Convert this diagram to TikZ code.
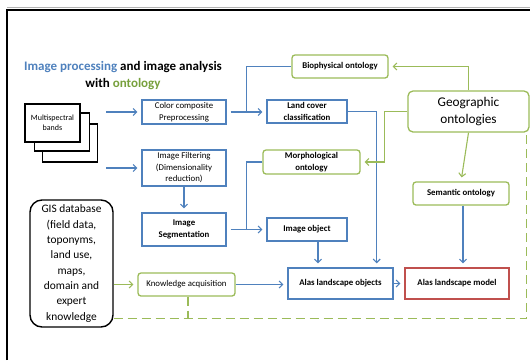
\documentclass[tikz,border=0pt]{standalone}
\usepackage{fontspec}
\setmainfont{Carlito}
\usetikzlibrary{positioning,calc,arrows.meta}
\definecolor{ublue}{RGB}{79,129,189}
\definecolor{ugreen}{RGB}{155,187,89}
\definecolor{ured}{RGB}{192,80,77}
\definecolor{tgreen}{RGB}{119,160,60}
\begin{document}
\begin{tikzpicture}[x=1pt, y=-1pt,
    bbox/.style={draw=ublue, line width=1.3pt, align=center, inner sep=1pt,
        font=\fontsize{8.8}{11.5}\selectfont},
    gbox/.style={draw=ugreen, line width=1.3pt, rounded corners=3pt, align=center,
        inner sep=1pt, font=\fontsize{8.8}{11.5}\selectfont},
    bold/.style={font=\bfseries\fontsize{8.8}{11.5}\selectfont},
    sheet/.style={draw, line width=1.3pt, fill=white, minimum width=55pt,
        minimum height=38pt, align=center, font=\fontsize{8}{10}\selectfont},
    barr/.style={draw=ublue, line width=1.1pt, -{Straight Barb[length=3.5pt,width=7pt]},
        shorten >=4pt},
    garr/.style={draw=ugreen, line width=1.1pt, -{Straight Barb[length=3.5pt,width=7pt]},
        shorten >=4pt},
    gdash/.style={draw=ugreen, line width=1.1pt, dash pattern=on 9pt off 5pt}]
    \useasboundingbox (0,0) rectangle (530,360);

    % Frame
    \draw[gray!60, line width=0.8pt] (7,7.5) -- (530,7.5);
    \draw[line width=1.4pt] (7,360) -- (7,10) -- (530,10);

    % Title
    \node[align=center, font=\bfseries\fontsize{13}{17}\selectfont] (title) at (123,75.5)
        {\textcolor{ublue}{Image processing} and image analysis\\
         with \textcolor{tgreen}{ontology}};

    % Multispectral bands (stacked sheets)
    \node[sheet] (mb3) at (70,143) {};
    \node[sheet] (mb2) at (62,132) {};
    \node[sheet] (mb1) at (52.5,123) {Multispectral\\bands};

    % Image processing chain
    \node[bbox, minimum width=84pt, minimum height=24pt] (colr) at (184,112)
        {Color composite\\Preprocessing};
    \node[bbox, minimum width=84pt, minimum height=36pt] (filt) at (184,168)
        {Image Filtering\\(Dimensionality\\reduction)};
    \node[bbox, bold, minimum width=84pt, minimum height=33pt] (seg) at (184,229.5)
        {Image\\Segmentation};
    \node[bbox, bold, minimum width=80pt, minimum height=23pt] (land) at (307,111.5)
        {Land cover\\classification};
    \node[bbox, bold, minimum width=80pt, minimum height=23pt] (imgobj) at (307,229.5)
        {Image object};
    \node[bbox, bold, minimum width=105pt, minimum height=31pt] (objs) at (340.5,283.5)
        {Alas landscape objects};
    \node[bbox, bold, draw=ured, minimum width=104pt, minimum height=31pt] (model) at (457,283.5)
        {Alas landscape model};

    % Ontologies
    \node[gbox, bold, minimum width=96pt, minimum height=23pt] (bio) at (340,66.5)
        {Biophysical ontology};
    \node[gbox, bold, minimum width=97pt, minimum height=24pt] (morph) at (311.5,162)
        {Morphological\\ontology};
    \node[gbox, bold, minimum width=96pt, minimum height=23pt] (sem) at (461,193.5)
        {Semantic ontology};
    \node[gbox, rounded corners=5pt, minimum width=121pt, minimum height=41pt,
        font=\fontsize{13.3}{17}\selectfont] (geo) at (468.5,111.5) {Geographic\\ontologies};

    % Knowledge sources
    \node[draw, line width=1.4pt, rounded corners=12pt, minimum width=83pt, minimum height=127pt,
        align=center, inner sep=1pt, font=\fontsize{11.4}{15.3}\selectfont] (gis) at (71.5,263.5)
        {GIS database\\(field data,\\toponyms,\\land use,\\maps,\\domain and\\expert\\knowledge};
    \node[gbox, minimum width=97pt, minimum height=23pt] (know) at (186.5,284.5)
        {Knowledge acquisition};

    % Blue flow
    \draw[barr] ([xshift=8pt]mb3.east |- colr.west) -- (colr.west);
    \draw[barr] ([xshift=8pt]mb3.east |- filt.west) -- (filt.west);
    \draw[barr, shorten <=4pt] (colr.east) -- (colr.east -| land.west);
    \draw[ublue, line width=1.1pt] ($(colr.east)!0.5!(colr.east -| land.west)$) |- (bio.west);
    \draw[barr] (filt.south) -- (seg.north);
    \draw[barr, shorten <=4pt] (seg.east) -- (seg.east -| imgobj.west);
    \draw[ublue, line width=1.1pt] (morph.west) -| ($(seg.east)!0.5!(seg.east -| imgobj.west)$);
    \draw[barr] (land.east) -| ([xshift=-17pt]objs.north east);
    \draw[barr] ([xshift=11pt]imgobj.south) -- ([xshift=11pt]imgobj.south |- objs.north);
    \draw[barr] (know.east) -- (know.east -| objs.west);
    \draw[barr] (objs.east) -- (objs.east -| model.west);
    \draw[barr] ([xshift=2pt]sem.south) -- ([xshift=2pt]sem.south |- model.north);

    % Green flow
    \draw[garr] (geo.north) |- (bio.east);
    \draw[garr] (geo.west) -- ++(-23,0) |- (morph.east);
    \draw[garr] (geo.south) -- (sem.north);
    \draw[garr] (gis.east |- know.west) -- (know.west);

    % Dashed feedback
    \coordinate (dl) at ([yshift=9pt]gis.south east);
    \draw[gdash] (dl) -| ([xshift=-3pt]geo.south east);
    \draw[gdash] ([xshift=1.5pt]know.south) -- ([xshift=1.5pt]know.south |- dl);
\end{tikzpicture}
\end{document}
